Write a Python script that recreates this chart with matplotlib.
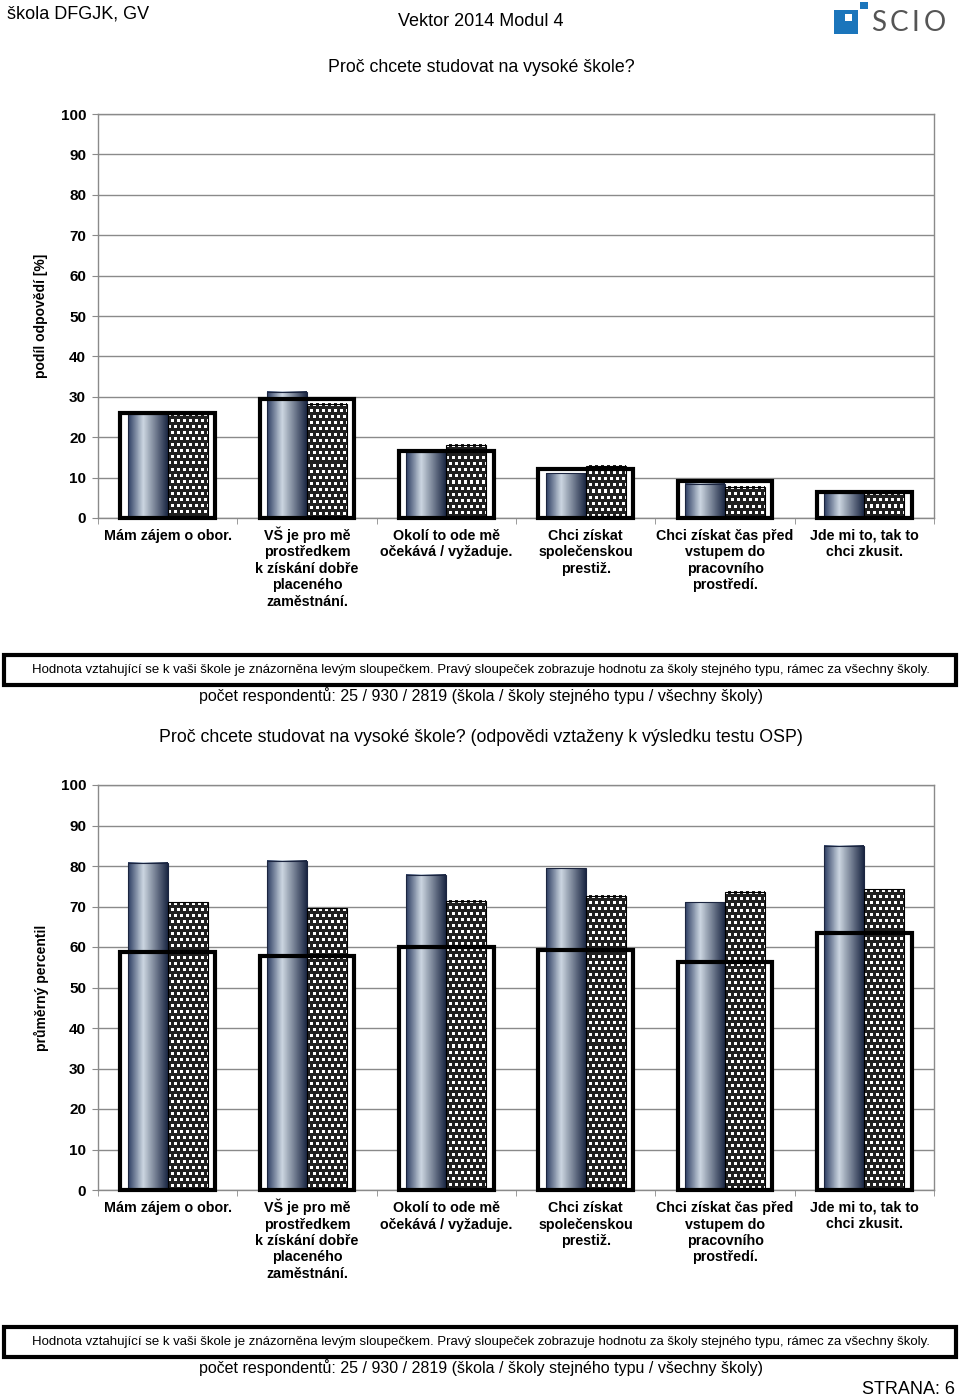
"""Vektor 2014 - page 6: two grouped bar panels."""
import numpy as np
import matplotlib
matplotlib.use('Agg')
import matplotlib.pyplot as plt
from matplotlib.colors import LinearSegmentedColormap
from matplotlib.patches import Rectangle
from matplotlib.transforms import offset_copy

categories = [
    'Mám zájem o obor.',
    'VŠ je pro mě\nprostředkem\nk získání dobře\nplaceného\nzaměstnání.',
    'Okolí to ode mě\nočekává / vyžaduje.',
    'Chci získat\nspolečenskou\nprestiž.',
    'Chci získat čas před\nvstupem do\npracovního\nprostředí.',
    'Jde mi to, tak to\nchci zkusit.',
]

# podíl odpovědí [%]
share_school = [25.8, 31.2, 16.3, 11.1, 8.5, 6.2]
share_same_type = [25.8, 28.3, 18.1, 12.9, 7.7, 6.2]
share_all = [26.0, 29.5, 16.6, 12.1, 9.2, 6.4]

# průměrný percentil
pct_school = [80.8, 81.3, 77.8, 79.5, 71.1, 85.0]
pct_same_type = [71.0, 69.6, 71.4, 72.6, 73.6, 74.2]
pct_all = [58.7, 57.8, 60.0, 59.3, 56.2, 63.4]

note = ('Hodnota vztahující se k vaši škole je znázorněna levým sloupečkem. '
        'Pravý sloupeček zobrazuje hodnotu za školy stejného typu, rámec za všechny školy.')
respondents = 'počet respondentů: 25 / 930 / 2819 (škola / školy stejného typu / všechny školy)'

W, H = 960, 1399
plt.rcParams['font.family'] = ['Liberation Sans', 'DejaVu Sans']
GRID = '#8a8a8a'

fig = plt.figure(figsize=(W / 100, H / 100), dpi=100)


def fx(px):
    return px / W


def fy(py):
    return 1 - py / H


cyl = LinearSegmentedColormap.from_list(
    'cyl', [(0, '#2e3f63'), (0.38, '#ccd6e1'), (1, '#1c2844')])


def checker(h, w, period=6, sq=3):
    """White squares on black, rows staggered."""
    i = np.arange(h)[:, None]
    j = np.arange(w)[None, :]
    off = ((i // period) % 2) * (period // 2)
    return (((i % period) < sq) & (((j + off) % period) < sq)).astype(float)


def draw_panel(top, bottom, school, same_type, all_schools, ylabel):
    ax = fig.add_axes([fx(98), fy(bottom), fx(934 - 98), (bottom - top) / H])
    n = len(categories)
    x = np.arange(n)
    ax.set_xlim(-0.5, n - 0.5)
    ax.set_ylim(0, 100)
    ax.grid(axis='y', color=GRID, lw=1)
    ax.set_axisbelow(True)

    bw, fw = 0.287, 0.68
    ax.bar(x, all_schools, width=fw, color='white', zorder=2)
    left = ax.bar(x - bw / 2, school, width=bw, color='none',
                  edgecolor='#1b2540', lw=0.8, zorder=4)
    right = ax.bar(x + bw / 2, same_type, width=bw, color='none',
                   edgecolor='black', lw=0.8, zorder=4)
    ax.bar(x, all_schools, width=fw, color='none', edgecolor='black',
           lw=3, zorder=5, joinstyle='miter', clip_on=False)

    for p in left:
        x0, y1 = p.get_x(), p.get_height()
        ax.imshow(np.linspace(0, 1, 64)[None, :], cmap=cyl, aspect='auto',
                  extent=(x0, x0 + p.get_width(), 0, y1), zorder=3)
    for p in right:
        x0, y1 = p.get_x(), p.get_height()
        (px0, py0), (px1, py1) = ax.transData.transform([(x0, 0), (x0 + p.get_width(), y1)])
        tex = checker(max(int(round(py1 - py0)), 1), max(int(round(px1 - px0)), 1))
        ax.imshow(tex, cmap='gray', vmin=-0.15, vmax=1, aspect='auto',
                  interpolation='nearest',
                  extent=(x0, x0 + p.get_width(), 0, y1), zorder=3)
    ax.set_xlim(-0.5, n - 0.5)
    ax.set_ylim(0, 100)

    ax.set_yticks(range(0, 101, 10))
    ax.tick_params(axis='y', length=4.3, color=GRID, pad=4.3, labelsize=11)
    for lbl in ax.get_yticklabels():
        lbl.set_fontweight('bold')
    ax.set_xticks(x, labels=[''] * n)
    ax.set_xticks(np.arange(-0.5, n), minor=True)
    ax.tick_params(axis='x', which='major', length=0)
    ax.tick_params(axis='x', which='minor', length=4, color=GRID)
    # category labels: one text per line so all first lines share a baseline
    for xi, lab in zip(x, categories):
        for k, line in enumerate(lab.split('\n')):
            tr = offset_copy(ax.get_xaxis_transform(), fig=fig,
                             y=-(22 + 16.5 * k), units='dots')
            ax.text(xi, 0, line, transform=tr, ha='center', va='baseline',
                    fontsize=10.3, fontweight='bold')
    for s in ax.spines.values():
        s.set_color(GRID)
        s.set_linewidth(1)

    fig.text(fx(41), fy((top + bottom) / 2), ylabel, rotation=90,
             ha='center', va='center', fontsize=10, fontweight='bold')
    return ax


def footer(y_box, y_text):
    fig.add_artist(Rectangle((fx(4), fy(y_box + 15)), fx(952), 30 / H,
                             transform=fig.transFigure, fill=False,
                             lw=3, ec='black', joinstyle='miter'))
    fig.text(fx(481), fy(y_box), note, ha='center', va='center', fontsize=9.5)
    fig.text(fx(481), fy(y_text), respondents, ha='center', va='center',
             fontsize=11.5)


# header
fig.text(fx(7), fy(14), 'škola DFGJK, GV', ha='left', va='center', fontsize=13)
fig.text(fx(481), fy(21), 'Vektor 2014 Modul 4', ha='center', va='center',
         fontsize=13)
blue = '#1b75bb'
fig.add_artist(Rectangle((fx(834), fy(34)), fx(24), 24 / H,
                         transform=fig.transFigure, color=blue, lw=0))
fig.add_artist(Rectangle((fx(845), fy(21)), fx(7), 7 / H,
                         transform=fig.transFigure, color='white', lw=0))
fig.add_artist(Rectangle((fx(860), fy(9)), fx(8), 7 / H,
                         transform=fig.transFigure, color=blue, lw=0))
for ch, px in zip('SCIO', [879, 899, 915, 935]):
    fig.text(fx(px), fy(23), ch, ha='center', va='center', fontsize=20,
             color='#555555', family=['Lato', 'DejaVu Sans'])

fig.text(fx(481), fy(67), 'Proč chcete studovat na vysoké škole?',
         ha='center', va='center', fontsize=12.8)
draw_panel(114, 518, share_school, share_same_type, share_all,
           'podíl odpovědí [%]')
footer(670, 696)

fig.text(fx(481), fy(738),
         'Proč chcete studovat na vysoké škole? (odpovědi vztaženy k výsledku testu OSP)',
         ha='center', va='center', fontsize=12.8)
draw_panel(785, 1190, pct_school, pct_same_type, pct_all,
           'průměrný percentil')
footer(1342, 1368)

fig.text(fx(955), fy(1389), 'STRANA: 6', ha='right', va='center', fontsize=13)

fig.savefig('out.png', dpi=100)
